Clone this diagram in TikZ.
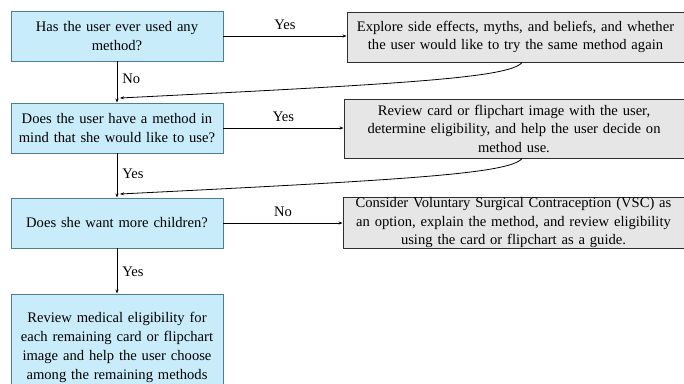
\documentclass[tikz,border=0pt]{standalone}
\usepackage{fontspec}
\setmainfont{Liberation Serif}
\usetikzlibrary{arrows.meta,calc}
\definecolor{qfill}{HTML}{C8ECFA}
\definecolor{qdraw}{HTML}{4D7E92}
\definecolor{afill}{HTML}{E6E6E6}
\definecolor{adraw}{HTML}{2E2E2E}
\newcommand{\cl}[1]{\makebox[0pt]{#1}}
\tikzset{
  qbox/.style={draw=qdraw,fill=qfill,line width=0.9pt,minimum width=212pt,text width=200pt,align=center,inner sep=0pt,font=\fontsize{14.6}{19}\selectfont},
  abox/.style={draw=adraw,fill=afill,line width=0.9pt,align=center,text width=300pt,inner sep=0pt,font=\fontsize{14.6}{18.5}\selectfont},
  conn/.style={-{Stealth[length=4pt,width=3pt]},line width=0.8pt,black},
  lbl/.style={font=\fontsize{14.6}{16}\selectfont,inner sep=0pt}
}
\begin{document}
\begin{tikzpicture}[x=1pt,y=-1pt]
\useasboundingbox (0,0) rectangle (684,383);
\clip (0,0) rectangle (684,383);
\node[qbox,minimum height=50pt] (a) at (117,36) {\cl{Has the user ever used any}\\\cl{method?}};
\node[qbox,minimum height=50pt] (b) at (117,128) {\cl{Does the user have a method in}\\\cl{mind that she would like to use?}};
\node[qbox,minimum height=50pt] (c) at (117,223) {\cl{Does she want more children?}};
\node[qbox,minimum height=106pt] (d) at (117,347) {\cl{Review medical eligibility for}\\\cl{each remaining card or flipchart}\\\cl{image and help the user choose}\\\cl{among the remaining methods}\\ };
\node[abox,minimum width=337pt,minimum height=50pt] (e1) at (515.5,37) {\cl{Explore side effects, myths, and beliefs, and whether}\\\cl{the user would like to try the same method again}};
\node[abox,minimum width=340pt,minimum height=59pt] (e2) at (514,128.5) {\cl{Review card or flipchart image with the user,}\\\cl{determine eligibility, and help the user decide on}\\\cl{method use.}};
\node[abox,minimum width=341pt,minimum height=50pt] (e3) at (513.5,223) {\cl{Consider Voluntary Surgical Contraception (VSC) as}\\\cl{an option, explain the method, and review eligibility}\\\cl{using the card or flipchart as a guide.}};
\draw[conn] (a.east) -- (e1.west |- a.east) node[lbl,midway,above=6pt] {Yes};
\draw[conn] (b.east) -- (e2.west |- b.east) node[lbl,midway,above=6pt] {Yes};
\draw[conn] (c.east) -- (e3.west |- c.east) node[lbl,midway,above=6pt] {No};
\draw[conn] (a.south) -- (b.north) node[lbl,midway,right=5pt,yshift=3pt] {No};
\draw[conn] (b.south) -- (c.north) node[lbl,midway,right=5pt,yshift=2pt] {Yes};
\draw[conn] (c.south) -- (d.north) node[lbl,midway,right=5pt,yshift=-1pt] {Yes};
\coordinate (m1) at (120,98);
\coordinate (m2) at (120,194);
\draw[conn] ($(e1.south)+(6.5,0)$) .. controls (510,78) and (400,84) .. (m1);
\draw[conn] ($(e2.south)+(8,0)$) .. controls (510,174) and (400,180) .. (m2);
\end{tikzpicture}
\end{document}
